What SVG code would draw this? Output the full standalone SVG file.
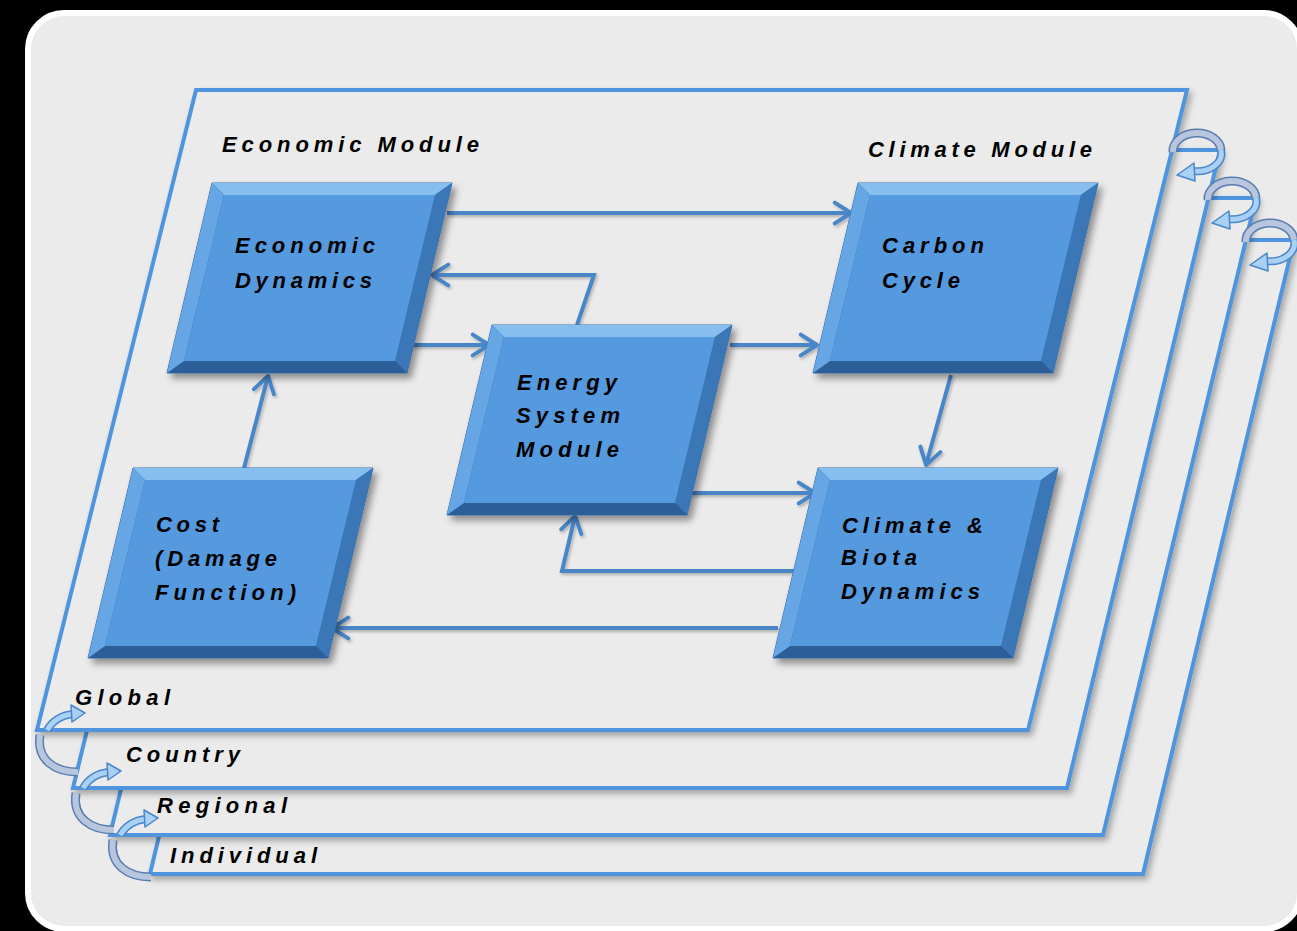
<svg xmlns="http://www.w3.org/2000/svg" xmlns:xlink="http://www.w3.org/1999/xlink" width="1297" height="931" viewBox="0 0 1297 931">
<defs>
<style>
.lbl{font-family:"Liberation Sans",Arial,sans-serif;font-weight:bold;font-style:italic;font-size:22px;fill:#000;}
.plane{fill:#ebebeb;stroke:#4f94dc;stroke-width:4;stroke-linejoin:miter;}
.conn{fill:none;stroke:#4a86c8;stroke-width:4;stroke-linejoin:miter;}
</style>
<filter id="pshadow" x="-5%" y="-5%" width="115%" height="115%">
<feDropShadow dx="3" dy="4" stdDeviation="3" flood-color="#000" flood-opacity="0.3"/>
</filter>
<filter id="nshadow" x="-10%" y="-10%" width="125%" height="125%">
<feDropShadow dx="4" dy="5" stdDeviation="3.5" flood-color="#000" flood-opacity="0.4"/>
</filter>
<filter id="cshadow" x="-10%" y="-10%" width="120%" height="120%">
<feDropShadow dx="1.5" dy="2" stdDeviation="1.5" flood-color="#000" flood-opacity="0.25"/>
</filter>
<marker id="arr" viewBox="0 0 12 12" refX="10" refY="6" markerWidth="6.5" markerHeight="6.5" orient="auto" markerUnits="strokeWidth">
<path d="M2.5,1.2 L10,6 L2.5,10.8" fill="none" stroke="#4a86c8" stroke-width="1.8" stroke-linecap="round" stroke-linejoin="round"/>
</marker>
<g id="nodeShape">
<polygon points="45,0 285,0 240,190 0,190" fill="#2f6aa8" stroke="#3a6ea8" stroke-width="1" filter="url(#nshadow)"/>
<polygon points="45,0 285,0 268,12 57,12" fill="#86bef0"/>
<polygon points="285,0 240,190 228,178 268,12" fill="#3b76b6"/>
<polygon points="240,190 0,190 17,178 228,178" fill="#2c5f98"/>
<polygon points="0,190 45,0 57,12 17,178" fill="#67a6e4"/>
<polygon points="57,12 268,12 228,178 17,178" fill="#5599de"/>
</g>
<g id="curlR">
<path d="M-24,2 A24,18 0 0 1 24,0" fill="none" stroke="#5a7db0" stroke-width="9"/>
<path d="M-24,2 A24,18 0 0 1 24,0" fill="none" stroke="#b7c6dd" stroke-width="6"/>
<path d="M24,0 A24,18 0 0 1 -4,21" fill="none" stroke="#4a86c8" stroke-width="8"/>
<path d="M24,0 A24,18 0 0 1 -4,21" fill="none" stroke="#a9d0f5" stroke-width="5"/>
<polygon points="-3,13 -20,25 -2,31" fill="#a9d0f5" stroke="#4a86c8" stroke-width="1.5" stroke-linejoin="round"/>
</g>
<g id="curlL">
<path d="M3,5 C-1,30 18,42 41,42" fill="none" stroke="#5a7db0" stroke-width="9"/>
<path d="M3,5 C-1,30 18,42 41,42" fill="none" stroke="#b7c6dd" stroke-width="6"/>
<path d="M10,0 C16,-10 26,-15 36,-16" fill="none" stroke="#4a86c8" stroke-width="8"/>
<path d="M10,0 C16,-10 26,-15 36,-16" fill="none" stroke="#a9d0f5" stroke-width="5"/>
<polygon points="34,-25 48,-17 35,-8" fill="#a9d0f5" stroke="#4a86c8" stroke-width="1.5" stroke-linejoin="round"/>
</g>
</defs>

<rect x="0" y="0" width="1297" height="931" fill="#000"/>
<rect x="28" y="13" width="1272" height="916" rx="36" ry="36" fill="#ebebeb" stroke="#ffffff" stroke-width="6"/>

<g id="planes">
<g id="plane-individual">
<polygon class="plane" points="301,240 1294,240 1143,874 150,874" filter="url(#pshadow)"/>
<text class="lbl" x="170" y="863" textLength="147" lengthAdjust="spacing">Individual</text>
</g>
<g id="plane-regional">
<polygon class="plane" points="263,198 1256,198 1103,835 110,835" filter="url(#pshadow)"/>
<text class="lbl" x="157" y="813" textLength="130" lengthAdjust="spacing">Regional</text>
</g>
<g id="plane-country">
<polygon class="plane" points="228,150 1220,150 1067,788 73,788" filter="url(#pshadow)"/>
<text class="lbl" x="126" y="762" textLength="114" lengthAdjust="spacing">Country</text>
</g>
<g id="plane-global">
<polygon class="plane" points="196,90 1187,90 1028,730 37,730" filter="url(#pshadow)"/>
<text class="lbl" x="75" y="705" textLength="95" lengthAdjust="spacing">Global</text>
<text class="lbl" x="222" y="152" textLength="257" lengthAdjust="spacing">Economic Module</text>
<text class="lbl" x="868" y="157" textLength="224" lengthAdjust="spacing">Climate Module</text>
</g>
</g>

<g id="curls">
<use xlink:href="#curlR" href="#curlR" transform="translate(1197,150)"/>
<use xlink:href="#curlR" href="#curlR" transform="translate(1232,198)"/>
<use xlink:href="#curlR" href="#curlR" transform="translate(1270,240)"/>
<use xlink:href="#curlL" href="#curlL" transform="translate(37,730)"/>
<use xlink:href="#curlL" href="#curlL" transform="translate(73,788)"/>
<use xlink:href="#curlL" href="#curlL" transform="translate(110,835)"/>
</g>

<g id="connectors" filter="url(#cshadow)">
<path class="conn" marker-end="url(#arr)" d="M447,213 H851"/>
<path class="conn" marker-end="url(#arr)" d="M577,325 L594,275 H432"/>
<path class="conn" marker-end="url(#arr)" d="M408,345 H489"/>
<path class="conn" marker-end="url(#arr)" d="M730,345 H817"/>
<path class="conn" marker-end="url(#arr)" d="M951,375 L926,465"/>
<path class="conn" marker-end="url(#arr)" d="M690,493 H815"/>
<path class="conn" marker-end="url(#arr)" d="M795,571 H562 L575,516"/>
<path class="conn" marker-end="url(#arr)" d="M778,628 H332"/>
<path class="conn" marker-end="url(#arr)" d="M244,468 L268,376"/>
</g>

<g id="node-economic-dynamics">
<use xlink:href="#nodeShape" href="#nodeShape" transform="translate(167,183)"/>
<text class="lbl" x="235" y="253" textLength="140" lengthAdjust="spacing">Economic</text>
<text class="lbl" x="235" y="288" textLength="137" lengthAdjust="spacing">Dynamics</text>
</g>
<g id="node-energy-system">
<use xlink:href="#nodeShape" href="#nodeShape" transform="translate(447,325)"/>
<text class="lbl" x="517" y="390" textLength="100" lengthAdjust="spacing">Energy</text>
<text class="lbl" x="516" y="423" textLength="104" lengthAdjust="spacing">System</text>
<text class="lbl" x="516" y="457" textLength="103" lengthAdjust="spacing">Module</text>
</g>
<g id="node-carbon-cycle">
<use xlink:href="#nodeShape" href="#nodeShape" transform="translate(813,183)"/>
<text class="lbl" x="882" y="253" textLength="102" lengthAdjust="spacing">Carbon</text>
<text class="lbl" x="882" y="288" textLength="78" lengthAdjust="spacing">Cycle</text>
</g>
<g id="node-climate-biota">
<use xlink:href="#nodeShape" href="#nodeShape" transform="translate(773,468)"/>
<text class="lbl" x="842" y="533" textLength="141" lengthAdjust="spacing">Climate &amp;</text>
<text class="lbl" x="841" y="565" textLength="76" lengthAdjust="spacing">Biota</text>
<text class="lbl" x="841" y="599" textLength="139" lengthAdjust="spacing">Dynamics</text>
</g>
<g id="node-cost">
<use xlink:href="#nodeShape" href="#nodeShape" transform="translate(88,468)"/>
<text class="lbl" x="156" y="532" textLength="63" lengthAdjust="spacing">Cost</text>
<text class="lbl" x="155" y="566" textLength="122" lengthAdjust="spacing">(Damage</text>
<text class="lbl" x="155" y="600" textLength="141" lengthAdjust="spacing">Function)</text>
</g>
</svg>
